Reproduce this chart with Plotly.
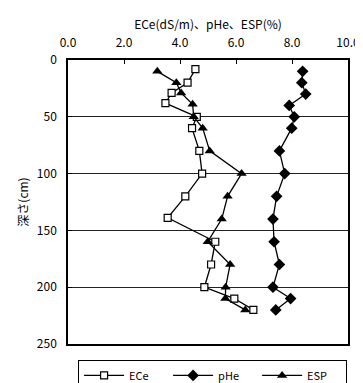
import plotly.graph_objects as go

depth = [8, 20, 29, 38, 50, 60, 80, 100, 120, 139, 160, 180, 200, 210, 220]
ece = [4.55, 4.27, 3.7, 3.48, 4.6, 4.43, 4.69, 4.79, 4.19, 3.56, 5.26, 5.11, 4.87, 5.94, 6.62]
depth_ph = [10, 20, 30, 40, 50, 60, 80, 100, 120, 140, 160, 180, 200, 210, 220]
phe = [8.38, 8.35, 8.49, 7.9, 8.08, 7.99, 7.55, 7.74, 7.45, 7.32, 7.36, 7.55, 7.32, 7.95, 7.42]
depth_esp = [10, 20, 29, 39, 50, 60, 80, 100, 120, 140, 160, 180, 200, 210, 220]
esp = [3.19, 3.87, 4.04, 4.45, 4.49, 4.81, 5.06, 6.2, 5.7, 5.49, 4.99, 5.79, 5.63, 5.62, 6.33]

x_ticks = [0, 2, 4, 6, 8, 10]
y_ticks = [0, 50, 100, 150, 200, 250]

font = "Noto Sans CJK JP, DejaVu Sans, sans-serif"

fig = go.Figure()
fig.add_trace(go.Scatter(x=ece, y=depth, name="ECe", mode="lines+markers",
                         line=dict(color="black", width=1.3),
                         marker=dict(symbol="square", size=7, color="white",
                                     line=dict(color="black", width=1.2))))
fig.add_trace(go.Scatter(x=phe, y=depth_ph, name="pHe", mode="lines+markers",
                         line=dict(color="black", width=1.3),
                         marker=dict(symbol="diamond", size=9, color="black")))
fig.add_trace(go.Scatter(x=esp, y=depth_esp, name="ESP", mode="lines+markers",
                         line=dict(color="black", width=1.3),
                         marker=dict(symbol="triangle-up", size=9, color="black")))

fig.update_layout(
    width=355, height=375,
    margin=dict(l=60, r=15, t=52, b=39, autoexpand=False),
    paper_bgcolor="white", plot_bgcolor="white",
    font=dict(family=font, size=12, color="black"),
    showlegend=True,
    legend=dict(orientation="h", x=0.036, y=-0.056, xanchor="left", yanchor="top",
                bordercolor="black", borderwidth=1, bgcolor="white",
                font=dict(size=11), entrywidth=34, entrywidthmode="pixels",
                itemwidth=40, tracegroupgap=0),
    xaxis=dict(side="top", range=[0, 10], tickvals=x_ticks, tickformat=".1f",
               showline=True, linecolor="black", linewidth=1.5, mirror=True,
               ticks="inside", ticklen=4, tickcolor="black", showgrid=False,
               zeroline=False, ticklabelstandoff=6,
               title=dict(text="ECe(dS/m)、pHe、ESP(%)", font=dict(size=12), standoff=1)),
    yaxis=dict(range=[250, 0], tickvals=y_ticks, showline=True, linecolor="black",
               linewidth=1.5, mirror=True, ticks="inside", ticklen=4, tickcolor="black",
               showgrid=True, gridcolor="#222222", gridwidth=1, zeroline=False,
               ticklabelstandoff=7,
               title=dict(text="深さ(cm)", font=dict(size=12), standoff=6)),
)

fig.write_html("out.html")
